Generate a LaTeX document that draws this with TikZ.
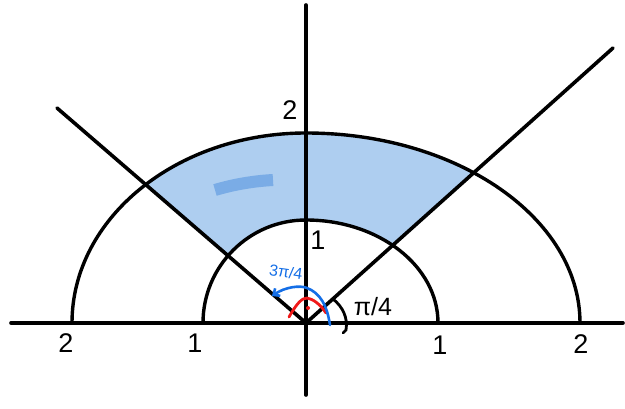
\documentclass[tikz,border=0pt]{standalone}
\usepackage{fontspec}
\setmainfont{Liberation Sans}
\usetikzlibrary{arrows.meta}
\definecolor{fillblue}{RGB}{174,206,240}
\definecolor{strokeblue}{RGB}{122,172,230}
\definecolor{penblue}{RGB}{20,110,230}
\definecolor{penred}{RGB}{240,25,25}
\tikzset{
  ink/.style={line width=3.6pt, line cap=round, black},
  arcline/.style={line width=3.4pt, line cap=round, black},
  num/.style={font=\fontsize{27}{27}\selectfont, inner sep=0pt},
  anglab/.style={font=\fontsize{25}{25}\selectfont, inner sep=0pt},
}
\begin{document}
\begin{tikzpicture}[x=1pt,y=1pt]
\useasboundingbox (0,0) rectangle (625,408);
\coordinate (O) at (306,85);
\coordinate (xl) at (11,85);
\coordinate (xr) at (623,85);
\coordinate (yb) at (306,13);
\coordinate (yt) at (306,403);
\coordinate (rl) at (57,300);
\coordinate (rr) at (613,360);
% shaded sector
\begin{scope}
  \clip (O) -- (7,343) -- (7,450) -- (705,450) -- (705,442) -- cycle;
  \fill[fillblue, even odd rule]
    (72,85) arc[start angle=180, end angle=90, x radius=234, y radius=190]
            arc[start angle=90, end angle=0, x radius=274, y radius=190] -- cycle
    (203,85) arc[start angle=180, end angle=90, x radius=103, y radius=103]
             arc[start angle=90, end angle=0, x radius=132, y radius=103] -- cycle;
\end{scope}
\draw[strokeblue, line width=12pt, line cap=butt] (215,218) .. controls (235,224) and (255,227) .. (273,228);
% arcs
\draw[arcline] (72,85) arc[start angle=180, end angle=90, x radius=234, y radius=190]
               arc[start angle=90, end angle=0, x radius=274, y radius=190];
\draw[arcline] (203,85) arc[start angle=180, end angle=90, x radius=103, y radius=103]
                arc[start angle=90, end angle=0, x radius=132, y radius=103];
% axes and rays
\draw[ink] (xl) -- (xr);
\draw[ink] (yb) -- (yt);
\draw[ink] (O) -- (rl);
\draw[ink] (O) -- (rr);
% angle marks
\draw[line width=2.8pt, line cap=round] (333,109) .. controls (343,101) and (348,90) .. (346,78) -- (343,75);
\draw[penred, line width=2.8pt, line cap=round] (289,91) .. controls (297,105) and (302,110) .. (307,110) .. controls (313,109) and (320,104) .. (326,95);
\fill[penred] (308,100) circle (2pt);
\draw[penblue, line width=2.6pt, line cap=round, {Straight Barb[length=5pt,width=9pt]}-] (272,112) .. controls (285,121) and (300,123) .. (307,120) .. controls (320,115) and (327,103) .. (330,83);
% labels
\node[num] (t2) at (290,298) {2};
\node[num] (t1) at (318,168) {1};
\node[num] (l2) at (66,65) {2};
\node[num] (l1) at (195,65) {1};
\node[num] (r1) at (440,63) {1};
\node[num] (r2) at (581,64) {2};
\node[anglab] (pi4) at (373,101) {π/4};
\node[font=\fontsize{16}{16}\selectfont, inner sep=0pt, text=penblue, rotate=-8] (tpi4) at (286,136) {3π/4};
\end{tikzpicture}
\end{document}
